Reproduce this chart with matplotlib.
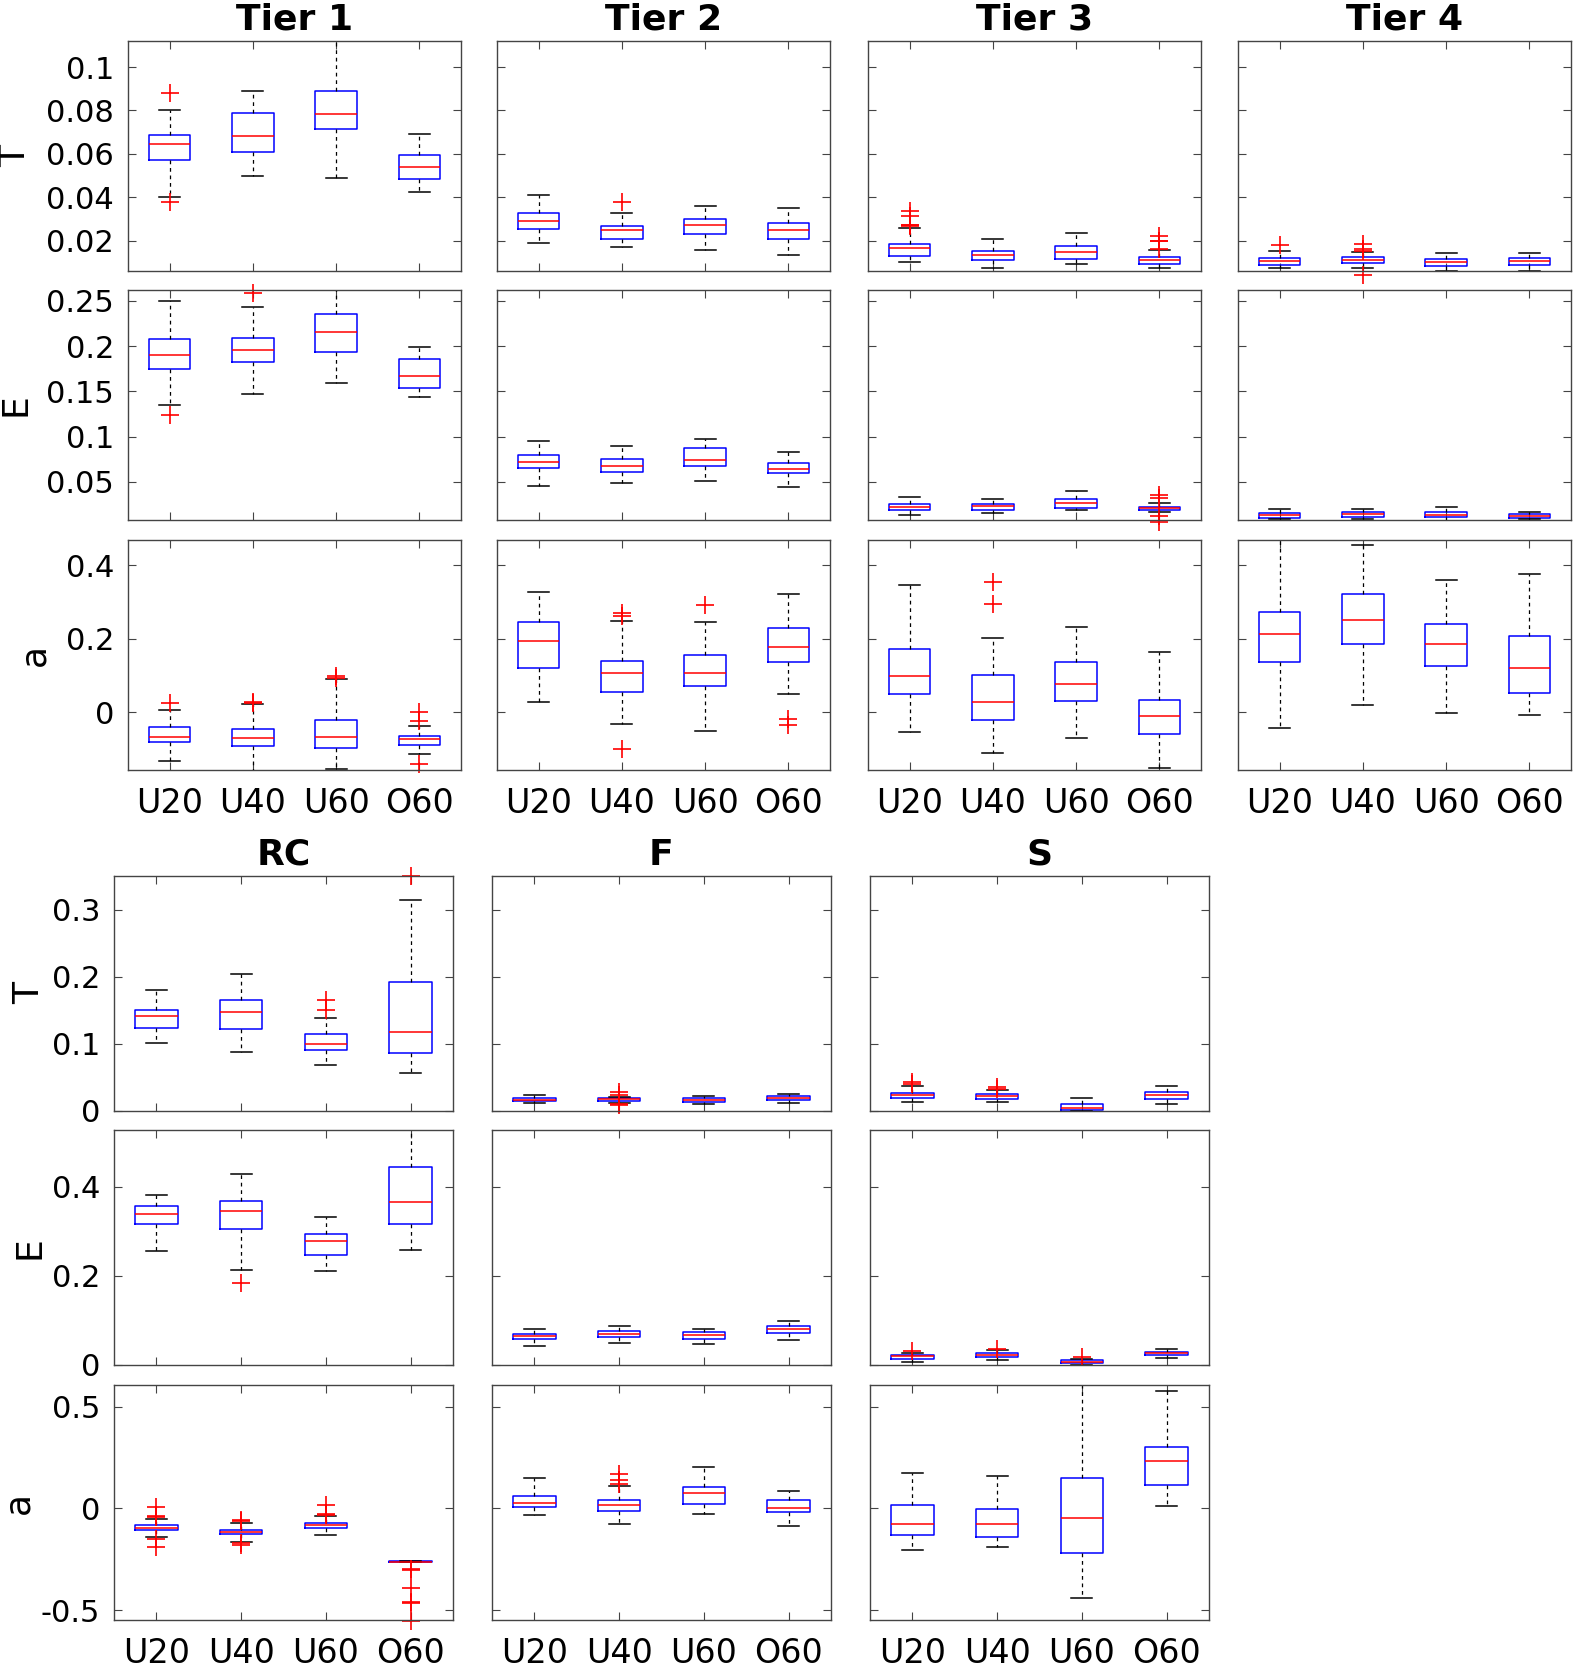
import numpy as np
import matplotlib.pyplot as plt
from matplotlib.ticker import FuncFormatter

groups = ['U20', 'U40', 'U60', 'O60']

# each box: (whisker low, q1, median, q3, whisker high, [outliers])
tier1_T = [(0.0401, 0.0571, 0.0645, 0.0686, 0.0802, [0.088, 0.038]),
           (0.0497, 0.0608, 0.0682, 0.0787, 0.089, []),
           (0.0489, 0.0716, 0.0785, 0.089, 0.115, []),
           (0.0424, 0.0484, 0.054, 0.0594, 0.0691, [])]
tier2_T = [(0.0191, 0.0254, 0.029, 0.0325, 0.041, []),
           (0.0172, 0.0208, 0.0248, 0.0268, 0.0327, [0.0376]),
           (0.0157, 0.0231, 0.027, 0.030, 0.0359, []),
           (0.0132, 0.0208, 0.0249, 0.028, 0.035, [])]
tier3_T = [(0.010, 0.013, 0.0164, 0.0186, 0.0259, [0.0336, 0.0313, 0.0274, 0.0271, 0.0266]),
           (0.0072, 0.0109, 0.0134, 0.015, 0.0206, []),
           (0.0092, 0.0117, 0.0146, 0.0175, 0.0237, []),
           (0.0076, 0.0093, 0.0112, 0.0124, 0.0155, [0.022, 0.020, 0.0197, 0.0163])]
tier4_T = [(0.0072, 0.0087, 0.0106, 0.012, 0.015, [0.0178]),
           (0.0072, 0.0096, 0.0112, 0.0123, 0.0146, [0.0186, 0.0161, 0.0152, 0.0042]),
           (0.0061, 0.0084, 0.0101, 0.0116, 0.0144, []),
           (0.0061, 0.0087, 0.0104, 0.0118, 0.0144, [])]

tier1_E = [(0.1347, 0.1752, 0.1907, 0.2084, 0.25, [0.1244]),
           (0.1469, 0.1826, 0.1955, 0.2087, 0.2437, [0.2585]),
           (0.1594, 0.1933, 0.2157, 0.2353, 0.27, []),
           (0.1439, 0.1542, 0.1671, 0.1863, 0.1995, [])]
tier2_E = [(0.046, 0.0651, 0.0725, 0.0802, 0.0957, []),
           (0.0485, 0.0614, 0.0677, 0.0758, 0.0898, []),
           (0.0511, 0.0677, 0.0747, 0.0872, 0.0971, []),
           (0.0445, 0.0596, 0.0647, 0.0706, 0.0835, [])]
tier3_E = [(0.0135, 0.0187, 0.0224, 0.0253, 0.0338, []),
           (0.0157, 0.0194, 0.0231, 0.0253, 0.0312, []),
           (0.0191, 0.0213, 0.0268, 0.0316, 0.0404, []),
           (0.0165, 0.0191, 0.0213, 0.0227, 0.0272, [0.0355, 0.0325, 0.0124, 0.0054])]
tier4_E = [(0.0087, 0.0106, 0.0132, 0.0154, 0.0198, []),
           (0.0095, 0.0117, 0.0143, 0.0165, 0.0198, []),
           (0.0069, 0.0113, 0.0139, 0.0165, 0.022, []),
           (0.0087, 0.0106, 0.0124, 0.0143, 0.0165, [])]

tier1_a = [(-0.1315, -0.0798, -0.0662, -0.0408, 0.0054, [0.0245]),
           (-0.159, -0.0916, -0.0689, -0.0444, 0.0236, [0.027, 0.025]),
           (-0.153, -0.098, -0.0662, -0.0218, 0.0907, [0.0998, 0.094]),
           (-0.1134, -0.0898, -0.0726, -0.0635, -0.038, [0.001, -0.0227, -0.1415])]
tier2_a = [(0.0281, 0.1197, 0.195, 0.2449, 0.3283, []),
           (-0.0317, 0.0553, 0.1061, 0.1388, 0.2494, [0.27, 0.263, -0.1007]),
           (-0.0508, 0.0707, 0.1079, 0.156, 0.2449, [0.293]),
           (0.0508, 0.1361, 0.1778, 0.2286, 0.3229, [-0.0181, -0.0345])]
tier3_a = [(-0.0544, 0.049, 0.0998, 0.1714, 0.3456, []),
           (-0.1107, -0.020, 0.0281, 0.1016, 0.2032, [0.3537, 0.2948]),
           (-0.0707, 0.0317, 0.078, 0.1361, 0.2322, []),
           (-0.1515, -0.059, -0.010, 0.0327, 0.1633, [])]
tier4_a = [(-0.0426, 0.1361, 0.2132, 0.2739, 0.48, []),
           (0.0209, 0.185, 0.2503, 0.3211, 0.4553, []),
           (-0.0009, 0.1252, 0.185, 0.2413, 0.361, []),
           (-0.0082, 0.0517, 0.1197, 0.2068, 0.3773, [])]

rc_T = [(0.1015, 0.1239, 0.1413, 0.1507, 0.18, []),
        (0.0886, 0.1219, 0.1478, 0.1652, 0.2035, []),
        (0.0682, 0.091, 0.100, 0.1144, 0.1388, [0.166, 0.1507]),
        (0.0572, 0.0861, 0.1179, 0.1915, 0.3144, [0.35])]
f_T = [(0.0114, 0.0144, 0.0169, 0.0194, 0.0239, []),
       (0.0124, 0.0149, 0.0174, 0.0194, 0.0214, [0.0283, 0.0244, 0.011, 0.009]),
       (0.010, 0.0139, 0.0164, 0.0189, 0.0219, []),
       (0.0119, 0.0164, 0.0194, 0.0224, 0.0254, [])]
s_T = [(0.0129, 0.0189, 0.0234, 0.0274, 0.0368, [0.0433, 0.0398]),
       (0.0129, 0.0179, 0.0219, 0.0249, 0.0313, [0.0358, 0.0333]),
       (0.0, 0.0015, 0.005, 0.010, 0.0194, []),
       (0.010, 0.0184, 0.0239, 0.0279, 0.0373, [])]

rc_E = [(0.2557, 0.3155, 0.3394, 0.3559, 0.3813, []),
        (0.2138, 0.3043, 0.3454, 0.3679, 0.4284, [0.1839]),
        (0.2116, 0.2475, 0.2789, 0.2938, 0.3327, []),
        (0.2572, 0.3163, 0.3649, 0.4441, 0.55, [])]
f_E = [(0.0419, 0.0583, 0.0643, 0.0703, 0.0807, []),
       (0.0501, 0.0628, 0.0688, 0.0755, 0.0875, []),
       (0.0471, 0.0583, 0.0665, 0.0733, 0.0815, []),
       (0.0568, 0.071, 0.0815, 0.0875, 0.098, [])]
s_E = [(0.0075, 0.0142, 0.0194, 0.0232, 0.0262, [0.0321]),
       (0.0112, 0.0172, 0.0224, 0.0262, 0.0336, [0.0352]),
       (0.0, 0.0045, 0.0075, 0.0112, 0.0127, [0.0187]),
       (0.0149, 0.0224, 0.0262, 0.0291, 0.0351, [])]

rc_a = [(-0.1426, -0.1082, -0.0967, -0.0836, -0.0525, [0.0082, -0.036, -0.041, -0.1525, -0.1885]),
        (-0.1656, -0.1279, -0.1164, -0.1049, -0.0738, [-0.056, -0.0607, -0.172, -0.18]),
        (-0.1295, -0.0951, -0.082, -0.0705, -0.0377, [0.0148, -0.0279, -0.0344]),
        (-0.2656, -0.2656, -0.2623, -0.259, -0.259, [-0.30, -0.303, -0.39, -0.462, -0.464, -0.552])]
f_a = [(-0.0344, 0.0066, 0.0262, 0.0623, 0.1492, []),
       (-0.0787, -0.0131, 0.0164, 0.0393, 0.1115, [0.1689, 0.1400, 0.118]),
       (-0.0295, 0.023, 0.0738, 0.1066, 0.2033, []),
       (-0.0885, -0.018, 0.0033, 0.0393, 0.0869, [])]
s_a = [(-0.2049, -0.1311, -0.0754, 0.0148, 0.1738, []),
       (-0.1918, -0.141, -0.0787, -0.0016, 0.159, []),
       (-0.4393, -0.218, -0.0475, 0.1492, 0.65, []),
       (0.0131, 0.1148, 0.2328, 0.3016, 0.5787, [])]

top_titles = ['Tier 1', 'Tier 2', 'Tier 3', 'Tier 4']
top_data = [[tier1_T, tier2_T, tier3_T, tier4_T],
            [tier1_E, tier2_E, tier3_E, tier4_E],
            [tier1_a, tier2_a, tier3_a, tier4_a]]
top_ylims = [(0.006, 0.112), (0.008, 0.262), (-0.157, 0.469)]
top_yticks = [[0.02, 0.04, 0.06, 0.08, 0.1], [0.05, 0.1, 0.15, 0.2, 0.25], [0, 0.2, 0.4]]

bot_titles = ['RC', 'F', 'S']
bot_data = [[rc_T, f_T, s_T], [rc_E, f_E, s_E], [rc_a, f_a, s_a]]
bot_ylims = [(0, 0.35), (0, 0.527), (-0.549, 0.607)]
bot_yticks = [[0, 0.1, 0.2, 0.3], [0, 0.2, 0.4], [-0.5, 0, 0.5]]

row_labels = ['T', 'E', 'a']

W, H = 1574, 1671
fig = plt.figure(figsize=(W / 100, H / 100), dpi=100)
fmt = FuncFormatter(lambda v, p: '%g' % round(v, 4))


def to_stats(rows):
    out = []
    for lo, q1, med, q3, hi, fl in rows:
        out.append(dict(whislo=lo, q1=q1, med=med, q3=q3, whishi=hi, fliers=fl))
    return out


def panel(left, top, w, h, rows, ylim, yticks, first_col, last_row):
    ax = fig.add_axes([left / W, 1 - (top + h) / H, w / W, h / H])
    parts = ax.bxp(to_stats(rows), positions=[1, 2, 3, 4], widths=0.5,
                   boxprops=dict(color='blue', lw=1.1),
                   medianprops=dict(color='red', lw=1.1),
                   whiskerprops=dict(color='black', ls='--', lw=0.9, dashes=(3, 3)),
                   capprops=dict(color='black', lw=1.1),
                   flierprops=dict(marker='+', markeredgecolor='red', markersize=13,
                                   markeredgewidth=1.2))
    for fl in parts['fliers']:
        fl.set_clip_on(False)
    ax.set_xlim(0.5, 4.5)
    ax.set_ylim(*ylim)
    ax.set_yticks(yticks)
    ax.yaxis.set_major_formatter(fmt)
    ax.set_xticks([1, 2, 3, 4])
    ax.tick_params(direction='in', top=True, right=True, length=6, width=0.8,
                   color='#444444', labelsize=22, pad=10)
    ax.tick_params(axis='x', labelsize=24, pad=12)
    for s in ax.spines.values():
        s.set_color('#444444')
        s.set_linewidth(1.0)
    if last_row:
        ax.set_xticklabels(groups)
    else:
        ax.set_xticklabels([])
    if not first_col:
        ax.set_yticklabels([])
    return ax


top_lefts = [128, 497, 868, 1238]
top_tops = [41, 290, 540]
for r in range(3):
    for c in range(4):
        ax = panel(top_lefts[c], top_tops[r], 333, 230, top_data[r][c],
                   top_ylims[r], top_yticks[r], c == 0, r == 2)
        if r == 0:
            ax.set_title(top_titles[c], fontsize=26, fontweight='bold', pad=8)
        if c == 0:
            ax.set_ylabel(row_labels[r], fontsize=26, labelpad=10)

bot_lefts = [114, 492, 870]
bot_tops = [876, 1130, 1385]
for r in range(3):
    for c in range(3):
        ax = panel(bot_lefts[c], bot_tops[r], 339, 235, bot_data[r][c],
                   bot_ylims[r], bot_yticks[r], c == 0, r == 2)
        if r == 0:
            ax.set_title(bot_titles[c], fontsize=26, fontweight='bold', pad=8)
        if c == 0:
            ax.set_ylabel(row_labels[r], fontsize=26, labelpad=4)

fig.savefig('out.png', dpi=100)
